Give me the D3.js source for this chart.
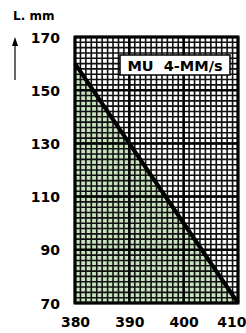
<!DOCTYPE html>
<html><head><meta charset="utf-8">
<script src="https://cdn.jsdelivr.net/npm/d3@7"></script>
<style>body{margin:0;background:#fff}svg{display:block}</style>
</head><body>
<script>
const xTicks = [380, 390, 400, 410];
const yTicks = [70, 90, 110, 130, 150, 170];
const lineX = [380, 410];
const lineY = [160, 70];
const seriesLabel = "MU  4-MM/s";
const yTitle = "L. mm";

const W = 246, H = 333;
const svg = d3.select("body").append("svg").attr("width", W).attr("height", H);
const x = d3.scaleLinear().domain([380, 410]).range([75, 238]);
const y = d3.scaleLinear().domain([70, 170]).range([303, 37]);
const font = "'DejaVu Sans', Verdana, sans-serif";

// green area under line
const pts = lineX.map((v, i) => [v, lineY[i]]);
const area = d3.area().x(d => x(d[0])).y0(y(70)).y1(d => y(d[1]));
svg.append("path").datum(pts).attr("d", area).attr("fill", "#c6e3bd");

// minor grid
const g = svg.append("g");
const minorX = d3.range(380, 410.01, 1);
const minorY = d3.range(70, 170.01, 2);
g.selectAll("line.mx").data(minorX).join("line")
  .attr("x1", d => x(d)).attr("x2", d => x(d)).attr("y1", y(70)).attr("y2", y(170))
  .attr("stroke", "#111").attr("stroke-width", 1.6);
g.selectAll("line.my").data(minorY).join("line")
  .attr("y1", d => y(d)).attr("y2", d => y(d)).attr("x1", x(380)).attr("x2", x(410))
  .attr("stroke", "#111").attr("stroke-width", 1.6);
// major grid
g.selectAll("line.Mx").data(xTicks).join("line")
  .attr("x1", d => x(d)).attr("x2", d => x(d)).attr("y1", y(70)).attr("y2", y(170))
  .attr("stroke", "#000").attr("stroke-width", 2.5);
g.selectAll("line.My").data(yTicks).join("line")
  .attr("y1", d => y(d)).attr("y2", d => y(d)).attr("x1", x(380)).attr("x2", x(410))
  .attr("stroke", "#000").attr("stroke-width", 2.5);

// border
svg.append("rect").attr("x", x(380)).attr("y", y(170))
  .attr("width", x(410) - x(380)).attr("height", y(70) - y(170))
  .attr("fill", "none").attr("stroke", "#000").attr("stroke-width", 3);

// line
svg.append("path").datum(pts)
  .attr("d", d3.line().x(d => x(d[0])).y(d => y(d[1])))
  .attr("stroke", "#000").attr("stroke-width", 4).attr("fill", "none");

// label box
svg.append("rect").attr("x", 120).attr("y", 55).attr("width", 110).attr("height", 20)
  .attr("fill", "#fff").attr("stroke", "#000").attr("stroke-width", 1.5);
svg.append("text").attr("x", 175).attr("y", 70.5).attr("text-anchor", "middle")
  .attr("font-family", font).attr("font-weight", "bold").attr("font-size", 14.5)
  .style("white-space", "pre").text(seriesLabel);

// axes labels
const yAxis = d3.axisLeft(y).tickValues(yTicks).tickSize(0).tickPadding(0);
const ya = svg.append("g").attr("transform", "translate(60,0)").call(yAxis);
ya.select(".domain").remove();
ya.selectAll("text").attr("font-family", font).attr("font-weight", "bold")
  .attr("font-size", 14).attr("fill", "#000").attr("dy", "0.36em");

const xAxis = d3.axisBottom(x).tickValues(xTicks).tickSize(0).tickPadding(0);
const xa = svg.append("g").attr("transform", "translate(0,327)").call(xAxis);
xa.select(".domain").remove();
xa.selectAll("text").attr("font-family", font).attr("font-weight", "bold")
  .attr("font-size", 14).attr("fill", "#000").attr("dy", 0).attr("y", 0);
xa.selectAll("text").filter(d => d === 410).attr("text-anchor", "end").attr("x", 246 - x(410));

// y title + arrow
svg.append("text").attr("x", 13).attr("y", 20).attr("font-family", font)
  .attr("font-weight", "bold").attr("font-size", 12).text(yTitle);
svg.append("line").attr("x1", 15).attr("x2", 15).attr("y1", 80).attr("y2", 44)
  .attr("stroke", "#000").attr("stroke-width", 1.2);
svg.append("path").attr("d", "M15,37 L12,46 L18,46 Z").attr("fill", "#000");
</script>
</body></html>
